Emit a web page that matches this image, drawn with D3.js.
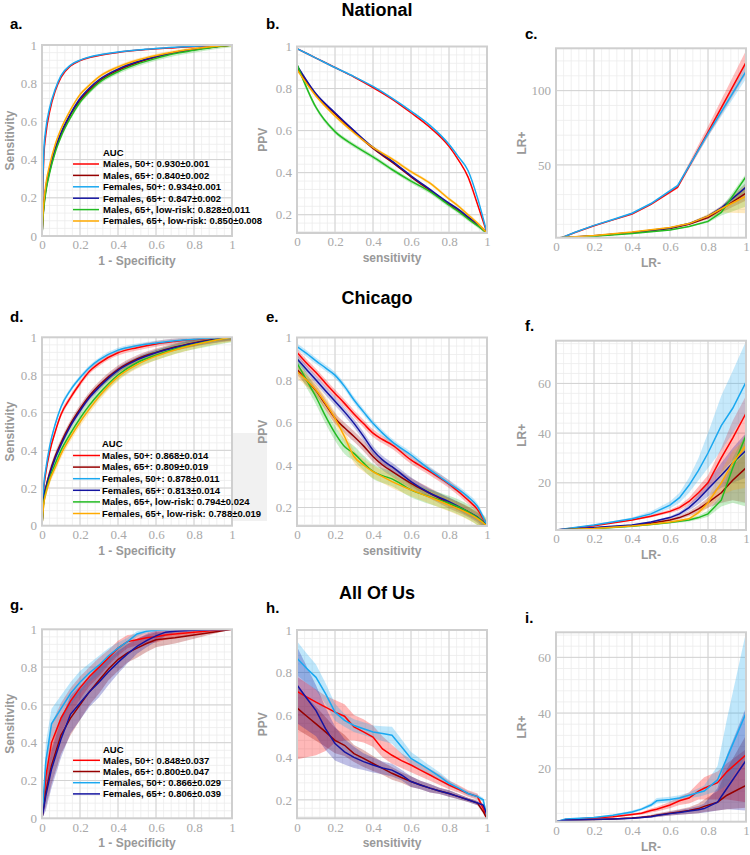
<!DOCTYPE html>
<html><head><meta charset="utf-8">
<script src="https://cdn.jsdelivr.net/npm/d3@7"></script>
<style>body{margin:0;background:#fff}svg{display:block}</style>
</head><body>
<svg id="c" width="750" height="855"></svg>
<script>
// ---------- labels / colours ----------
const seriesLabels = ["Males, 50+", "Males, 65+", "Females, 50+", "Females, 65+", "Males, 65+, low-risk", "Females, 65+, low-risk"];
const seriesColors = ["#ff0000", "#960000", "#1aa8f0", "#1414a0", "#22bb22", "#ffaa00"];
const aucNational = ["0.930\u00b10.001", "0.840\u00b10.002", "0.934\u00b10.001", "0.847\u00b10.002", "0.828\u00b10.011", "0.850\u00b10.008"];
const aucChicago = ["0.868\u00b10.014", "0.809\u00b10.019", "0.878\u00b10.011", "0.813\u00b10.014", "0.794\u00b10.024", "0.788\u00b10.019"];
const aucAllOfUs = ["0.848\u00b10.037", "0.800\u00b10.047", "0.866\u00b10.029", "0.806\u00b10.039"];
const unitTicks = [0, 0.2, 0.4, 0.6, 0.8, 1];
const ppvTicks = [0.2, 0.4, 0.6, 0.8, 1];
const lrTicksNational = [50, 100];
const lrTicksChicago = [20, 40, 60];
const lrTicksAllOfUs = [20, 40, 60];

// ---------- a. National ROC ----------
const natRocX = [0,0.005,0.01,0.02,0.04,0.07,0.1,0.15,0.2,0.25,0.3,0.4,0.5,0.6,0.7,0.8,0.9,1];
const natRocM50 = [0,0.28,0.42,0.53,0.65,0.76,0.83,0.89,0.918,0.934,0.945,0.961,0.972,0.98,0.986,0.992,0.996,1];
const natRocM65 = [0,0.1,0.16,0.24,0.34,0.45,0.53,0.635,0.71,0.765,0.81,0.868,0.907,0.937,0.96,0.977,0.99,1];
const natRocF50 = [0,0.31,0.45,0.56,0.67,0.77,0.84,0.895,0.921,0.937,0.948,0.963,0.974,0.982,0.988,0.993,0.997,1];
const natRocF65 = [0,0.1,0.17,0.25,0.35,0.46,0.54,0.64,0.72,0.775,0.818,0.874,0.912,0.94,0.962,0.978,0.99,1];
const natRocM65L = [0,0.09,0.15,0.23,0.33,0.44,0.52,0.62,0.70,0.757,0.803,0.86,0.9,0.93,0.955,0.972,0.988,1];
const natRocF65L = [0,0.11,0.18,0.27,0.37,0.48,0.56,0.66,0.74,0.79,0.833,0.885,0.92,0.945,0.965,0.98,0.992,1];
const natRocErr = [0.003, 0.004, 0.003, 0.004, 0.012, 0.009];

// ---------- b. National PPV ----------
const natPpvX = [0,0.1,0.2,0.3,0.4,0.5,0.6,0.7,0.8,0.85,0.9,0.95,1];
const natPpvM50 = [0.99,0.945,0.9,0.855,0.805,0.75,0.685,0.615,0.525,0.46,0.38,0.25,0.113];
const natPpvM65 = [0.9,0.77,0.68,0.595,0.515,0.45,0.38,0.315,0.25,0.22,0.185,0.15,0.113];
const natPpvF50 = [0.99,0.945,0.9,0.857,0.81,0.755,0.693,0.625,0.535,0.475,0.41,0.28,0.113];
const natPpvF65 = [0.91,0.775,0.685,0.6,0.52,0.455,0.385,0.32,0.255,0.225,0.19,0.155,0.113];
const natPpvM65L = [0.915,0.71,0.595,0.53,0.475,0.415,0.36,0.31,0.245,0.215,0.18,0.148,0.113];
const natPpvF65L = [0.89,0.765,0.67,0.59,0.52,0.465,0.405,0.35,0.275,0.24,0.2,0.16,0.113];
const natPpvErr = [0.003, 0.004, 0.003, 0.004, 0.01, 0.008];

// ---------- c. National LR ----------
const natLrXa = [0.03,0.1,0.2,0.3,0.4,0.5,0.64,0.8,1];
const natLrM50 = [1,4.5,9,13,17,23.5,35,72,119];
const natLrM50Lo = [1,4.3,8.7,12.6,16.5,23,34,69,111];
const natLrM50Hi = [1,4.7,9.3,13.4,17.6,24.2,36.5,76,127];
const natLrF50 = [1,4.7,9.3,13.3,17.5,24,36,71,113];
const natLrF50Lo = [1,4.5,9,12.9,17,23.5,35,69,108];
const natLrF50Hi = [1,4.9,9.6,13.7,18,24.5,37,73,118];
const natLrXb = [0.02,0.2,0.4,0.6,0.7,0.8,0.87,1];
const natLrM65 = [1,2.2,4.3,7.2,10,14.5,20,31];
const natLrM65Lo = [1,2,4,6.8,9.5,13.5,18,26];
const natLrM65Hi = [1,2.4,4.6,7.6,10.5,15.5,22,36];
const natLrF65 = [1,2.3,4.5,7.5,10.5,15.5,21,35];
const natLrF65Lo = [1,2.1,4.2,7.1,10,14.5,19.5,30];
const natLrF65Hi = [1,2.5,4.8,7.9,11,16.5,22.5,38];
const natLrM65L = [1,2,3.8,6.2,8.5,12,18,42];
const natLrM65LLo = [1,1.8,3.5,5.8,8,11,16,22];
const natLrM65LHi = [1,2.2,4.1,6.6,9,13,21,44];
const natLrF65L = [1,2.5,4.8,7.8,10.5,15.5,20.5,29];
const natLrF65LLo = [1,2.3,4.5,7.4,10,14,18,17.5];
const natLrF65LHi = [1,2.7,5.1,8.2,11,17,22,37];

// ---------- d. Chicago ROC ----------
const chiRocX = [0,0.01,0.02,0.04,0.07,0.1,0.15,0.2,0.25,0.3,0.4,0.5,0.6,0.7,0.8,0.9,1];
const chiRocM50 = [0,0.2,0.28,0.39,0.5,0.59,0.68,0.755,0.82,0.862,0.918,0.945,0.965,0.978,0.988,0.995,1];
const chiRocM65 = [0,0.15,0.2,0.28,0.37,0.44,0.54,0.62,0.69,0.745,0.83,0.885,0.92,0.948,0.97,0.988,1];
const chiRocF50 = [0,0.22,0.3,0.42,0.54,0.63,0.72,0.785,0.84,0.88,0.932,0.955,0.97,0.982,0.99,0.996,1];
const chiRocF65 = [0,0.15,0.2,0.27,0.36,0.43,0.53,0.61,0.68,0.735,0.825,0.88,0.918,0.946,0.968,0.986,1];
const chiRocM65L = [0,0.13,0.18,0.25,0.33,0.4,0.49,0.57,0.64,0.70,0.80,0.865,0.905,0.938,0.962,0.983,1];
const chiRocF65L = [0,0.12,0.17,0.24,0.31,0.38,0.47,0.55,0.62,0.685,0.79,0.855,0.9,0.933,0.96,0.982,1];
const chiRocErr = [0.015, 0.02, 0.012, 0.016, 0.026, 0.022];

// ---------- e. Chicago PPV ----------
const chiPpvX = [0,0.05,0.1,0.15,0.2,0.25,0.3,0.35,0.4,0.45,0.5,0.6,0.7,0.8,0.9,0.95,1];
const chiPpvM50 = [0.93,0.88,0.835,0.785,0.737,0.69,0.64,0.595,0.55,0.52,0.495,0.424,0.369,0.31,0.235,0.19,0.113];
const chiPpvM65 = [0.85,0.8,0.75,0.685,0.62,0.575,0.534,0.49,0.44,0.4,0.37,0.314,0.267,0.22,0.18,0.152,0.113];
const chiPpvF50 = [0.957,0.925,0.89,0.857,0.823,0.77,0.706,0.65,0.596,0.55,0.51,0.447,0.377,0.314,0.25,0.205,0.113];
const chiPpvF65 = [0.9,0.85,0.8,0.75,0.70,0.65,0.596,0.535,0.47,0.424,0.392,0.322,0.267,0.228,0.181,0.155,0.113];
const chiPpvM65L = [0.88,0.8,0.72,0.63,0.55,0.487,0.455,0.41,0.37,0.35,0.335,0.283,0.25,0.22,0.18,0.152,0.113];
const chiPpvF65L = [0.84,0.8,0.753,0.69,0.62,0.534,0.44,0.40,0.369,0.345,0.322,0.283,0.248,0.212,0.173,0.148,0.113];
const chiPpvErr = [0.018, 0.025, 0.015, 0.02, 0.035, 0.03];

// ---------- f. Chicago LR ----------
const chiLrX = [0,0.2,0.4,0.5,0.6,0.65,0.7,0.75,0.8,0.87,0.93,1];
const chiLrM50 = [1,2.7,5,6.5,8.5,10,12.5,16,20,30,38,48];
const chiLrM50Lo = [1,2.6,4.7,6,7.8,9,11,14,17,24,29,33];
const chiLrM50Hi = [1,2.8,5.3,7,9.3,11,14,18.5,23,34,45,55];
const chiLrM65 = [1,1.8,2.7,3.7,5,6,7.5,9.5,12,16,21,26];
const chiLrM65Lo = [1,1.7,2.5,3.4,4.5,5.3,6.5,8,10,12,13,12];
const chiLrM65Hi = [1,1.9,2.9,4,5.5,6.7,8.5,11,14,20,27,32];
const chiLrF50 = [1,3,5.5,7.5,11,14,19,25,32,43,50,60.5];
const chiLrF50Lo = [1,2.8,5,6.7,9.7,12,16,21,26,33,40,48];
const chiLrF50Hi = [1,3.2,6,8.5,12.5,16,22,30,40,55,65,77];
const chiLrF65 = [1,2,3,4.2,6,7.5,10,13.5,17.5,23,28,33];
const chiLrF65Lo = [1,1.9,2.8,3.9,5.5,6.7,8.8,11.5,14.5,18,20,22];
const chiLrF65Hi = [1,2.1,3.2,4.5,6.5,8.3,11.2,15.5,20.5,28,34,40];
const chiLrM65L = [1,1.5,2.5,3.2,4,4.5,5,6,7.5,13,26,39];
const chiLrM65LLo = [1,1.4,2.3,2.9,3.6,4,4.4,5.2,6.3,10.5,12,10.5];
const chiLrM65LHi = [1,1.6,2.7,3.5,4.4,5,5.6,6.8,8.7,15,30,40];
const chiLrF65L = [1,1.6,2.6,3.3,4.2,4.8,5.5,8,12,20,28,35];
const chiLrF65LLo = [1,1.5,2.4,3,3.8,4.3,4.9,7,10,15,17,18];
const chiLrF65LHi = [1,1.7,2.8,3.6,4.6,5.3,6.1,9,14,25,33,38];

// ---------- g. All Of Us ROC ----------
const aouRocX = [0,0.02,0.05,0.1,0.15,0.2,0.25,0.3,0.35,0.4,0.45,0.5,0.55,0.6,0.65,0.7,0.8,0.9,1];
const aouRocM50 = [0,0.22,0.4,0.53,0.62,0.69,0.75,0.8,0.85,0.9,0.935,0.945,0.955,0.96,0.97,0.975,0.985,0.993,1];
const aouRocM65 = [0,0.14,0.28,0.44,0.53,0.6,0.67,0.73,0.79,0.84,0.875,0.9,0.925,0.945,0.95,0.955,0.97,0.985,1];
const aouRocF50 = [0,0.3,0.5,0.58,0.66,0.72,0.77,0.81,0.86,0.9,0.935,0.975,0.99,0.995,0.998,1,1,1,1];
const aouRocF65 = [0,0.12,0.26,0.42,0.55,0.61,0.67,0.72,0.775,0.825,0.87,0.91,0.94,0.965,0.985,0.99,0.995,0.998,1];
const aouRocM50Err = [0,0.1,0.1,0.08,0.07,0.06,0.05,0.05,0.04,0.04,0.035,0.03,0.03,0.03,0.025,0.02,0.015,0.008,0];
const aouRocM65Err = [0,0.08,0.1,0.1,0.09,0.08,0.07,0.07,0.06,0.06,0.05,0.05,0.045,0.04,0.035,0.03,0.02,0.01,0];
const aouRocF50Err = [0,0.1,0.08,0.07,0.06,0.06,0.05,0.05,0.04,0.03,0.02,0.015,0.01,0.005,0,0,0,0,0];
const aouRocF65Err = [0,0.08,0.1,0.1,0.1,0.09,0.08,0.08,0.07,0.06,0.05,0.04,0.035,0.03,0.02,0.01,0.005,0.002,0];

// ---------- h. All Of Us PPV ----------
const aouPpvX = [0,0.05,0.1,0.15,0.2,0.25,0.3,0.35,0.4,0.45,0.5,0.55,0.6,0.65,0.7,0.75,0.8,0.85,0.9,0.95,0.98,1];
const aouPpvM50 = [0.711,0.685,0.66,0.637,0.613,0.594,0.543,0.52,0.496,0.44,0.41,0.385,0.364,0.34,0.317,0.293,0.27,0.25,0.23,0.215,0.16,0.11];
const aouPpvM50Lo = [0.39,0.40,0.41,0.43,0.47,0.48,0.48,0.47,0.45,0.40,0.37,0.35,0.33,0.31,0.29,0.27,0.25,0.235,0.215,0.2,0.15,0.1];
const aouPpvM50Hi = [0.78,0.75,0.72,0.69,0.67,0.65,0.60,0.58,0.55,0.50,0.46,0.42,0.39,0.37,0.345,0.32,0.29,0.27,0.245,0.23,0.17,0.12];
const aouPpvM65 = [0.633,0.595,0.558,0.52,0.48,0.457,0.418,0.395,0.371,0.348,0.325,0.305,0.286,0.27,0.255,0.242,0.23,0.215,0.2,0.185,0.145,0.11];
const aouPpvM65Err = [0.1,0.09,0.08,0.07,0.06,0.05,0.04,0.04,0.035,0.03,0.03,0.025,0.025,0.02,0.02,0.015,0.015,0.012,0.01,0.01,0.01,0.005];
const aouPpvF50 = [0.867,0.82,0.777,0.7,0.613,0.574,0.55,0.535,0.52,0.512,0.504,0.45,0.395,0.368,0.34,0.31,0.278,0.255,0.23,0.215,0.2,0.12];
const aouPpvF50Err = [0.08,0.07,0.06,0.05,0.04,0.03,0.03,0.03,0.03,0.035,0.04,0.035,0.03,0.025,0.02,0.02,0.015,0.01,0.01,0.01,0.01,0.01];
const aouPpvF65 = [0.741,0.68,0.62,0.535,0.465,0.426,0.40,0.38,0.364,0.35,0.34,0.317,0.286,0.27,0.255,0.242,0.23,0.215,0.2,0.185,0.175,0.13];
const aouPpvF65Err = [0.18,0.15,0.12,0.1,0.08,0.06,0.05,0.04,0.035,0.03,0.03,0.025,0.025,0.02,0.02,0.015,0.015,0.012,0.01,0.01,0.01,0.005];

// ---------- i. All Of Us LR ----------
const aouLrX = [0,0.05,0.2,0.3,0.4,0.45,0.5,0.53,0.6,0.65,0.7,0.75,0.78,0.85,0.9,1];
const aouLrM50 = [1,1.8,2.3,2.8,3.6,4,5,5.5,7,8.5,9.5,12,13,15,19,25];
const aouLrM50Lo = [1,1.7,2.1,2.5,3.2,3.5,4.3,4.7,5.8,7,7.5,9,9,9,9,8];
const aouLrM50Hi = [1,1.9,2.5,3.1,4,4.5,5.7,6.3,8.2,10,11.5,15,17,19,22,27];
const aouLrM65 = [1,1.5,1.8,2,2.3,2.6,3,3.3,4,4.5,5,5.7,6.5,8,10.5,14];
const aouLrM65Lo = [1,1.4,1.6,1.8,2,2.2,2.5,2.7,3.2,3.5,3.8,4,4.5,5,5.5,6];
const aouLrM65Hi = [1,1.6,2,2.2,2.6,3,3.5,3.9,4.8,5.5,6.2,7.5,9,12,20,32];
const aouLrF50 = [1,2,2.5,3.3,4.5,5.5,7,8.5,9,9.5,10.5,11.5,12,16,24,40];
const aouLrF50Lo = [1,1.9,2.3,3,4,5,6.3,7.5,8,8.5,9.5,10,10.5,12,14,25];
const aouLrF50Hi = [1,2.1,2.7,3.6,5,6,7.7,9.5,10,10.5,11.5,13,14,21,38,69];
const aouLrF65 = [1,1.5,1.8,2,2.2,2.5,2.8,3.2,3.9,4.3,4.8,5.3,5.7,8,13,23];
const aouLrF65Lo = [1,1.4,1.6,1.8,2,2.2,2.4,2.7,3.2,3.5,3.8,4,4.2,5,5.5,5];
const aouLrF65Hi = [1,1.6,2,2.2,2.5,2.8,3.2,3.7,4.6,5.2,5.8,6.6,7.5,13,25,42];

// ---------- helpers ----------
function sym(xs, ys, err) {
  const e = Array.isArray(err) ? err : ys.map(() => err);
  return ys.map((v, i) => ({x: xs[i], y: v, lo: v - e[i], hi: v + e[i]}));
}
function asym(xs, ys, lo, hi) {
  return ys.map((v, i) => ({x: xs[i], y: v, lo: lo[i], hi: hi[i]}));
}

const svg = d3.select("#c");
const defs = svg.append("defs");
let clipN = 0;
const fmtTick = v => String(+v.toFixed(2));

function panel(cfg) {
  const x = d3.scaleLinear().domain(cfg.xd).range([cfg.l, cfg.r]);
  const y = d3.scaleLinear().domain(cfg.yd).range([cfg.b, cfg.t]);
  const g = svg.append("g");
  const id = "clip" + (clipN++);
  defs.append("clipPath").attr("id", id).append("rect")
    .attr("x", cfg.l).attr("y", cfg.t).attr("width", cfg.r - cfg.l).attr("height", cfg.b - cfg.t);

  // minor grid
  const xMinor = d3.range(0, 1.0001, 0.04).filter(v => v > cfg.xd[0] && v < cfg.xd[1]);
  const yMinor = d3.range(cfg.yMinorStart, cfg.yd[1], cfg.yMinorStep).filter(v => v > cfg.yd[0] && v < cfg.yd[1]);
  const grid = g.append("g");
  grid.selectAll(".xm").data(xMinor).join("line")
    .attr("x1", d => x(d)).attr("x2", d => x(d)).attr("y1", cfg.t).attr("y2", cfg.b)
    .attr("stroke", "#ececec").attr("stroke-width", 0.8);
  grid.selectAll(".ym").data(yMinor).join("line").attr("class", "ym")
    .attr("y1", d => y(d)).attr("y2", d => y(d)).attr("x1", cfg.l).attr("x2", cfg.r)
    .attr("stroke", "#ececec").attr("stroke-width", 0.8);
  // major grid
  grid.selectAll(".xM").data(cfg.xTicks.filter(v => v > cfg.xd[0] && v < cfg.xd[1])).join("line").attr("class", "xM")
    .attr("x1", d => x(d)).attr("x2", d => x(d)).attr("y1", cfg.t).attr("y2", cfg.b)
    .attr("stroke", "#d2d2d2").attr("stroke-width", 1);
  grid.selectAll(".yM").data(cfg.yTicks.filter(v => v > cfg.yd[0] && v < cfg.yd[1])).join("line").attr("class", "yM")
    .attr("y1", d => y(d)).attr("y2", d => y(d)).attr("x1", cfg.l).attr("x2", cfg.r)
    .attr("stroke", "#d2d2d2").attr("stroke-width", 1);

  if (cfg.legendBg) {
    g.append("rect").attr("x", cfg.legendBg[0]).attr("y", cfg.legendBg[1])
      .attr("width", cfg.legendBg[2]).attr("height", cfg.legendBg[3]).attr("fill", "#f1f1f1");
  }

  const plot = g.append("g").attr("clip-path", `url(#${id})`);
  const curve = cfg.smooth ? d3.curveMonotoneX : d3.curveLinear;
  const area = d3.area().x(d => x(d.x)).y0(d => y(d.lo)).y1(d => y(d.hi)).curve(curve);
  const line = d3.line().x(d => x(d.x)).y(d => y(d.y)).curve(curve);
  cfg.series.forEach(s => {
    plot.append("path").attr("d", area(s.pts)).attr("fill", seriesColors[s.c]).attr("fill-opacity", cfg.bandOpacity || 0.25);
  });
  cfg.series.forEach(s => {
    plot.append("path").attr("d", line(s.pts)).attr("fill", "none")
      .attr("stroke", seriesColors[s.c]).attr("stroke-width", 1.5);
  });

  // frame
  g.append("rect").attr("x", cfg.l).attr("y", cfg.t).attr("width", cfg.r - cfg.l).attr("height", cfg.b - cfg.t)
    .attr("fill", "none").attr("stroke", "#cfcfcf").attr("stroke-width", 2);

  // axes (tick labels)
  const ax = g.append("g").attr("transform", `translate(0,${cfg.b})`)
    .call(d3.axisBottom(x).tickValues(cfg.xTicks).tickFormat(fmtTick).tickSize(0).tickPadding(4));
  const ay = g.append("g").attr("transform", `translate(${cfg.l},0)`)
    .call(d3.axisLeft(y).tickValues(cfg.yTicks).tickFormat(fmtTick).tickSize(0).tickPadding(5));
  [ax, ay].forEach(a => {
    a.select(".domain").remove();
    a.selectAll("text").attr("fill", "#a9a9a9").attr("font-family", "'Liberation Serif', 'DejaVu Serif', serif").attr("font-size", 13);
  });

  // axis titles
  g.append("text").attr("x", (cfg.l + cfg.r) / 2).attr("y", cfg.b + 29).attr("text-anchor", "middle")
    .attr("font-family", "'Liberation Sans', Arial, sans-serif").attr("font-weight", "bold").attr("font-size", 12)
    .attr("fill", "#999").text(cfg.xLabel);
  g.append("text").attr("transform", `translate(${cfg.yLabelX},${(cfg.t + cfg.b) / 2}) rotate(-90)`)
    .attr("text-anchor", "middle")
    .attr("font-family", "'Liberation Sans', Arial, sans-serif").attr("font-weight", "bold").attr("font-size", 12)
    .attr("fill", "#999").text(cfg.yLabel);

  // panel letter
  g.append("text").attr("x", cfg.letterPos[0]).attr("y", cfg.letterPos[1])
    .attr("font-family", "'Liberation Sans', Arial, sans-serif").attr("font-weight", "bold").attr("font-size", 15)
    .attr("fill", "#000").text(cfg.letter);

  // legend
  if (cfg.legend) {
    const L = cfg.legend;
    const lg = g.append("g").attr("font-family", "'Liberation Sans', Arial, sans-serif").attr("font-weight", "bold").attr("font-size", 9.5);
    lg.append("text").attr("x", L.textX).attr("y", L.titleY).attr("dy", "0.35em").attr("fill", "#000").text("AUC");
    L.auc.forEach((a, i) => {
      const yy = L.firstY + i * L.step;
      lg.append("line").attr("x1", L.lineX0).attr("x2", L.lineX1).attr("y1", yy).attr("y2", yy)
        .attr("stroke", seriesColors[i]).attr("stroke-width", 1.5);
      lg.append("text").attr("x", L.textX).attr("y", yy).attr("dy", "0.35em").attr("fill", "#000")
        .text(seriesLabels[i] + ": " + a);
    });
  }
}

// ---------- titles ----------
const titleFont = "'Liberation Sans', Arial, sans-serif";
[["National", 16], ["Chicago", 304], ["All Of Us", 599]].forEach(([t, yy]) => {
  svg.append("text").attr("x", 377).attr("y", yy).attr("text-anchor", "middle")
    .attr("font-family", titleFont).attr("font-weight", "bold").attr("font-size", 18).attr("fill", "#000").text(t);
});

// ---------- panels ----------
const rocAxes = {xd: [0, 1], yd: [0, 1], xTicks: unitTicks, yTicks: unitTicks, yMinorStart: 0, yMinorStep: 0.04,
  xLabel: "1 - Specificity", yLabel: "Sensitivity", yLabelX: 14, smooth: true};
const ppvAxes = {xd: [0, 1], yd: [0.113, 1], xTicks: unitTicks, yTicks: ppvTicks, yMinorStart: 0.12, yMinorStep: 0.04,
  xLabel: "sensitivity", yLabel: "PPV", yLabelX: 267, smooth: true};

// a
panel(Object.assign({}, rocAxes, {l: 42, r: 232, t: 45, b: 236, letter: "a.", letterPos: [10, 29],
  series: [
    {c: 0, pts: sym(natRocX, natRocM50, natRocErr[0])},
    {c: 1, pts: sym(natRocX, natRocM65, natRocErr[1])},
    {c: 2, pts: sym(natRocX, natRocF50, natRocErr[2])},
    {c: 3, pts: sym(natRocX, natRocF65, natRocErr[3])},
    {c: 4, pts: sym(natRocX, natRocM65L, natRocErr[4])},
    {c: 5, pts: sym(natRocX, natRocF65L, natRocErr[5])}],
  legend: {auc: aucNational, textX: 103, titleY: 152.5, firstY: 164, step: 11.4, lineX0: 73, lineX1: 99}}));
// b
panel(Object.assign({}, ppvAxes, {l: 297, r: 487, t: 46.5, b: 233, letter: "b.", letterPos: [266, 29],
  series: [
    {c: 0, pts: sym(natPpvX, natPpvM50, natPpvErr[0])},
    {c: 1, pts: sym(natPpvX, natPpvM65, natPpvErr[1])},
    {c: 2, pts: sym(natPpvX, natPpvF50, natPpvErr[2])},
    {c: 3, pts: sym(natPpvX, natPpvF65, natPpvErr[3])},
    {c: 4, pts: sym(natPpvX, natPpvM65L, natPpvErr[4])},
    {c: 5, pts: sym(natPpvX, natPpvF65L, natPpvErr[5])}]}));
// c
panel({l: 556, r: 746, t: 48.3, b: 237.7, xd: [0, 1], yd: [1, 128.5], xTicks: unitTicks, yTicks: lrTicksNational,
  yMinorStart: 10, yMinorStep: 10, xLabel: "LR-", yLabel: "LR+", yLabelX: 526, smooth: false,
  letter: "c.", letterPos: [525, 39],
  series: [
    {c: 0, pts: asym(natLrXa, natLrM50, natLrM50Lo, natLrM50Hi)},
    {c: 1, pts: asym(natLrXb, natLrM65, natLrM65Lo, natLrM65Hi)},
    {c: 2, pts: asym(natLrXa, natLrF50, natLrF50Lo, natLrF50Hi)},
    {c: 3, pts: asym(natLrXb, natLrF65, natLrF65Lo, natLrF65Hi)},
    {c: 4, pts: asym(natLrXb, natLrM65L, natLrM65LLo, natLrM65LHi)},
    {c: 5, pts: asym(natLrXb, natLrF65L, natLrF65LLo, natLrF65LHi)}]});
// d
panel(Object.assign({}, rocAxes, {l: 42, r: 232, t: 337.3, b: 525.7, letter: "d.", letterPos: [10, 322],
  legendBg: [233, 433, 34, 88],
  series: [
    {c: 0, pts: sym(chiRocX, chiRocM50, chiRocErr[0])},
    {c: 1, pts: sym(chiRocX, chiRocM65, chiRocErr[1])},
    {c: 2, pts: sym(chiRocX, chiRocF50, chiRocErr[2])},
    {c: 3, pts: sym(chiRocX, chiRocF65, chiRocErr[3])},
    {c: 4, pts: sym(chiRocX, chiRocM65L, chiRocErr[4])},
    {c: 5, pts: sym(chiRocX, chiRocF65L, chiRocErr[5])}],
  legend: {auc: aucChicago, textX: 102, titleY: 444, firstY: 455.5, step: 11.6, lineX0: 73, lineX1: 100}}));
// e
panel(Object.assign({}, ppvAxes, {l: 297, r: 487, t: 337.5, b: 526, letter: "e.", letterPos: [266, 322],
  series: [
    {c: 0, pts: sym(chiPpvX, chiPpvM50, chiPpvErr[0])},
    {c: 1, pts: sym(chiPpvX, chiPpvM65, chiPpvErr[1])},
    {c: 2, pts: sym(chiPpvX, chiPpvF50, chiPpvErr[2])},
    {c: 3, pts: sym(chiPpvX, chiPpvF65, chiPpvErr[3])},
    {c: 4, pts: sym(chiPpvX, chiPpvM65L, chiPpvErr[4])},
    {c: 5, pts: sym(chiPpvX, chiPpvF65L, chiPpvErr[5])}]}));
// f
panel({l: 556, r: 746, t: 340.7, b: 530, xd: [0, 1], yd: [1, 77.2], xTicks: unitTicks, yTicks: lrTicksChicago,
  yMinorStart: 4, yMinorStep: 4, xLabel: "LR-", yLabel: "LR+", yLabelX: 526, smooth: false,
  letter: "f.", letterPos: [525, 331],
  series: [
    {c: 0, pts: asym(chiLrX, chiLrM50, chiLrM50Lo, chiLrM50Hi)},
    {c: 1, pts: asym(chiLrX, chiLrM65, chiLrM65Lo, chiLrM65Hi)},
    {c: 2, pts: asym(chiLrX, chiLrF50, chiLrF50Lo, chiLrF50Hi)},
    {c: 3, pts: asym(chiLrX, chiLrF65, chiLrF65Lo, chiLrF65Hi)},
    {c: 4, pts: asym(chiLrX, chiLrM65L, chiLrM65LLo, chiLrM65LHi)},
    {c: 5, pts: asym(chiLrX, chiLrF65L, chiLrF65LLo, chiLrF65LHi)}]});
// g
panel(Object.assign({}, rocAxes, {l: 42, r: 232, t: 629.3, b: 818.3, letter: "g.", letterPos: [10, 610], smooth: false,
  bandOpacity: 0.28,
  series: [
    {c: 0, pts: sym(aouRocX, aouRocM50, aouRocM50Err)},
    {c: 1, pts: sym(aouRocX, aouRocM65, aouRocM65Err)},
    {c: 2, pts: sym(aouRocX, aouRocF50, aouRocF50Err)},
    {c: 3, pts: sym(aouRocX, aouRocF65, aouRocF65Err)}],
  legend: {auc: aucAllOfUs, textX: 103, titleY: 749.5, firstY: 760.3, step: 11.2, lineX0: 73, lineX1: 100}}));
// h
panel(Object.assign({}, ppvAxes, {l: 297, r: 487, t: 630, b: 818.3, letter: "h.", letterPos: [266, 613], smooth: false,
  bandOpacity: 0.28,
  series: [
    {c: 0, pts: asym(aouPpvX, aouPpvM50, aouPpvM50Lo, aouPpvM50Hi)},
    {c: 1, pts: sym(aouPpvX, aouPpvM65, aouPpvM65Err)},
    {c: 2, pts: sym(aouPpvX, aouPpvF50, aouPpvF50Err)},
    {c: 3, pts: sym(aouPpvX, aouPpvF65, aouPpvF65Err)}]}));
// i
panel({l: 556, r: 746, t: 632.3, b: 821.7, xd: [0, 1], yd: [1, 69], xTicks: unitTicks, yTicks: lrTicksAllOfUs,
  yMinorStart: 4, yMinorStep: 4, xLabel: "LR-", yLabel: "LR+", yLabelX: 526, smooth: false,
  letter: "i.", letterPos: [525, 623], bandOpacity: 0.28,
  series: [
    {c: 0, pts: asym(aouLrX, aouLrM50, aouLrM50Lo, aouLrM50Hi)},
    {c: 1, pts: asym(aouLrX, aouLrM65, aouLrM65Lo, aouLrM65Hi)},
    {c: 2, pts: asym(aouLrX, aouLrF50, aouLrF50Lo, aouLrF50Hi)},
    {c: 3, pts: asym(aouLrX, aouLrF65, aouLrF65Lo, aouLrF65Hi)}]});
</script>
</body></html>
